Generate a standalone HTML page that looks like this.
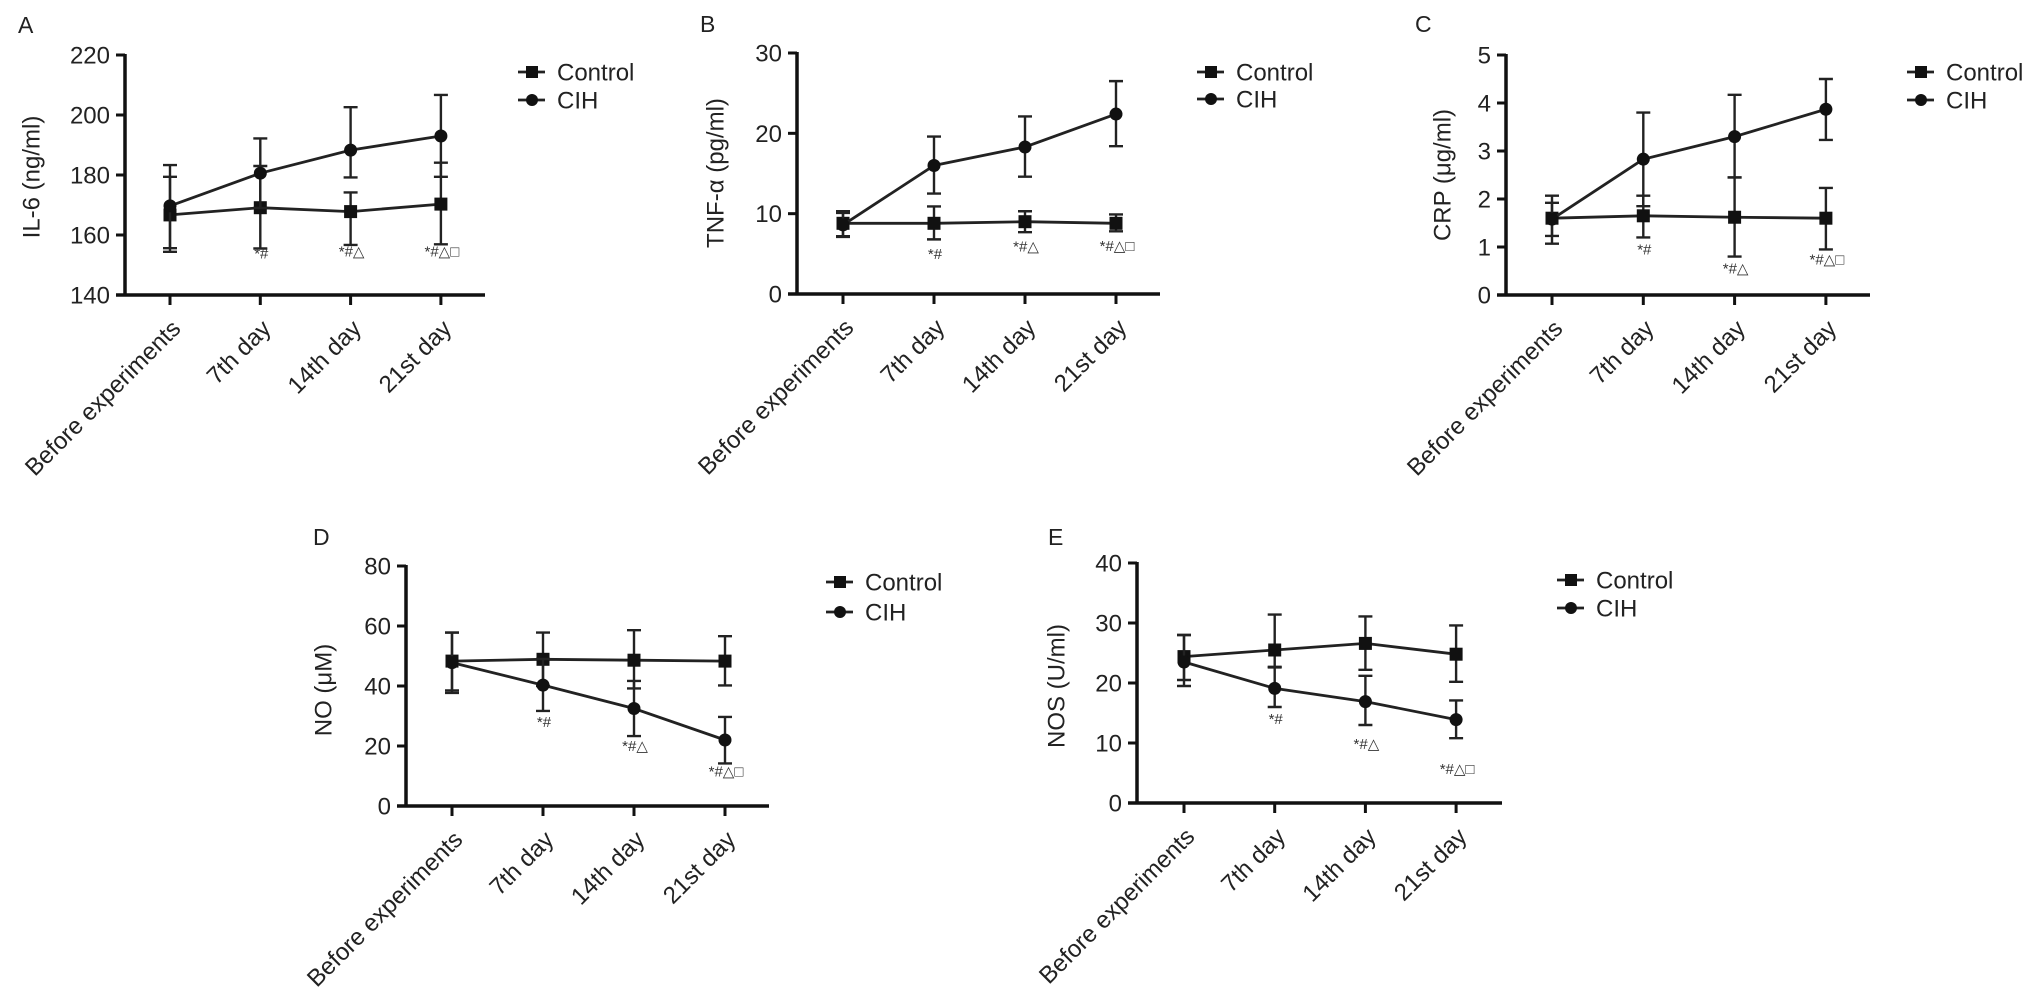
<!DOCTYPE html>
<html><head><meta charset="utf-8"><style>
html,body{margin:0;padding:0;background:#fff;}
svg{display:block;font-family:"Liberation Sans",Arial,sans-serif;}
</style></head><body>
<svg id="fig" width="2028" height="1004" viewBox="0 0 2028 1004" xmlns="http://www.w3.org/2000/svg"></svg>
<script>
const categories = ["Before experiments","7th day","14th day","21st day"];
// Panel A IL-6
const aControl = [166.7,169.1,167.8,170.3];
const aControlHi = [179.4,183.0,174.2,184.1];
const aControlLo = [154.4,155.5,156.7,156.9];
const aCIH = [169.7,180.6,188.3,193.0];
const aCIHHi = [183.3,192.2,202.6,206.7];
const aCIHLo = [155.6,169.0,179.2,179.4];
const aTicks = [140,160,180,200,220];
const aNotes = ["","*#","*#△","*#△□"];
const aNoteVals = [0,153.9,154.5,154.5];
// Panel B TNF-a
const bControl = [8.8,8.8,9.0,8.8];
const bControlHi = [10.3,10.9,10.3,9.9];
const bControlLo = [7.2,6.8,7.7,7.8];
const bCIH = [8.6,16.0,18.3,22.4];
const bCIHHi = [10.1,19.6,22.1,26.5];
const bCIHLo = [7.1,12.5,14.6,18.4];
const bTicks = [0,10,20,30];
const bNotes = ["","*#","*#△","*#△□"];
const bNoteVals = [0,5.0,5.9,6.0];
// Panel C CRP
const cControl = [1.60,1.65,1.62,1.60];
const cControlHi = [2.07,2.07,2.45,2.23];
const cControlLo = [1.07,1.20,0.80,0.95];
const cCIH = [1.58,2.83,3.30,3.87];
const cCIHHi = [1.92,3.80,4.17,4.50];
const cCIHLo = [1.23,1.85,2.45,3.23];
const cTicks = [0,1,2,3,4,5];
const cNotes = ["","*#","*#△","*#△□"];
const cNoteVals = [0,0.95,0.55,0.74];
// Panel D NO
const dControl = [48.3,48.9,48.6,48.3];
const dControlHi = [57.8,57.8,58.6,56.6];
const dControlLo = [37.7,40.0,39.2,40.2];
const dCIH = [47.8,40.3,32.5,22.0];
const dCIHHi = [57.8,49.0,41.7,29.7];
const dCIHLo = [38.5,31.7,23.3,14.2];
const dTicks = [0,20,40,60,80];
const dNotes = ["","*#","*#△","*#△□"];
const dNoteVals = [0,28.0,20.0,11.5];
// Panel E NOS
const eControl = [24.4,25.5,26.6,24.8];
const eControlHi = [28.0,31.4,31.1,29.6];
const eControlLo = [20.5,22.7,22.2,20.2];
const eCIH = [23.5,19.1,16.9,13.9];
const eCIHHi = [28.0,22.6,21.2,17.1];
const eCIHLo = [19.5,16.0,13.0,10.8];
const eTicks = [0,10,20,30,40];
const eNotes = ["","*#","*#△","*#△□"];
const eNoteVals = [0,14.0,9.8,5.7];

const NS = "http://www.w3.org/2000/svg";
const svg = document.getElementById('fig');
function mk(tag, attrs, parent, text){
  const e = document.createElementNS(NS, tag);
  for (const k in attrs) e.setAttribute(k, attrs[k]);
  if (text !== undefined) e.textContent = text;
  (parent||svg).appendChild(e);
  return e;
}

const panels = [
 {id:'a',letter:'A',title:'IL-6 (ng/ml)',ax:125,c0:170,step:90.3,xend:485,top:55,bot:295,min:140,max:220,ticks:aTicks,
  ctl:aControl,ctlHi:aControlHi,ctlLo:aControlLo,cih:aCIH,cihHi:aCIHHi,cihLo:aCIHLo,notes:aNotes,noteVals:aNoteVals,
  lx:518,ly:72,lgap:28,tx:32,ty:177,pl:[18,33]},
 {id:'b',letter:'B',title:'TNF-α (pg/ml)',ax:797,c0:843,step:91,xend:1160,top:53,bot:294,min:0,max:30,ticks:bTicks,
  ctl:bControl,ctlHi:bControlHi,ctlLo:bControlLo,cih:bCIH,cihHi:bCIHHi,cihLo:bCIHLo,notes:bNotes,noteVals:bNoteVals,
  lx:1197,ly:72,lgap:27,tx:716,ty:173,pl:[700,32]},
 {id:'c',letter:'C',title:'CRP (μg/ml)',ax:1506,c0:1552,step:91.3,xend:1870,top:55,bot:295,min:0,max:5,ticks:cTicks,
  ctl:cControl,ctlHi:cControlHi,ctlLo:cControlLo,cih:cCIH,cihHi:cCIHHi,cihLo:cCIHLo,notes:cNotes,noteVals:cNoteVals,
  lx:1907,ly:72,lgap:28,tx:1443,ty:175,pl:[1415,32]},
 {id:'d',letter:'D',title:'NO (μM)',ax:406,c0:452,step:91,xend:769,top:566,bot:806,min:0,max:80,ticks:dTicks,
  ctl:dControl,ctlHi:dControlHi,ctlLo:dControlLo,cih:dCIH,cihHi:dCIHHi,cihLo:dCIHLo,notes:dNotes,noteVals:dNoteVals,
  lx:826,ly:582,lgap:30,tx:324,ty:690,pl:[313,545]},
 {id:'e',letter:'E',title:'NOS (U/ml)',ax:1137,c0:1184,step:90.7,xend:1502,top:563,bot:803,min:0,max:40,ticks:eTicks,
  ctl:eControl,ctlHi:eControlHi,ctlLo:eControlLo,cih:eCIH,cihHi:eCIHHi,cihLo:eCIHLo,notes:eNotes,noteVals:eNoteVals,
  lx:1557,ly:580,lgap:28,tx:1057,ty:686,pl:[1048,545]}
];

panels.forEach(p=>{
  const g = mk('g',{});
  
  
  const xs = i => p.c0 + i*p.step;
  const ys = v => p.bot - (v - p.min)/(p.max - p.min)*(p.bot - p.top);

  const lt = mk('text',{x:p.pl[0],y:p.pl[1],'font-size':23,fill:'#222'},g,p.letter);
  
  

  const ya = mk('line',{x1:p.ax,y1:p.top-1,x2:p.ax,y2:p.bot+1.5,stroke:'#111','stroke-width':3.5},g);
  
  
  const xa = mk('line',{x1:p.ax-9,y1:p.bot,x2:p.xend,y2:p.bot,stroke:'#111','stroke-width':3.5},g);
  
  

  p.ticks.forEach(t=>{
    const y = ys(t);
    mk('line',{x1:p.ax-9,y1:y,x2:p.ax,y2:y,stroke:'#111','stroke-width':3},g);
    const tl = mk('text',{x:p.ax-15,y:y+8.5,'font-size':24,'text-anchor':'end',fill:'#222'},g,String(t));
    
    
  });

  categories.forEach((c,i)=>{
    const x = xs(i);
    mk('line',{x1:x,y1:p.bot,x2:x,y2:p.bot+10,stroke:'#111','stroke-width':3},g);
    const ax = x+12, ay = p.bot+35;
    const cl = mk('text',{x:ax,y:ay,'font-size':24,'text-anchor':'end',fill:'#222',
      transform:'rotate(-45 '+ax+' '+ay+')'},g,c);
    
    
  });

  const yt = mk('text',{x:p.tx,y:p.ty,'font-size':24,'text-anchor':'middle','dominant-baseline':'central',fill:'#222',
    transform:'rotate(-90 '+p.tx+' '+p.ty+')'},g,p.title);
  
  

  function series(vals,hi,lo,kind){
    const sg = mk('g',{},g);
    
    
    vals.forEach((v,i)=>{
      const x = xs(i);
      const eb = mk('path',{d:'M'+x+' '+ys(hi[i])+'V'+ys(lo[i])+'M'+(x-7)+' '+ys(hi[i])+'H'+(x+7)+'M'+(x-7)+' '+ys(lo[i])+'H'+(x+7),
        stroke:'#222','stroke-width':2.4,fill:'none'},sg);
      
      
    });
    const ln = mk('polyline',{points:vals.map((v,i)=>xs(i)+','+ys(v)).join(' '),stroke:'#222','stroke-width':2.8,fill:'none'},sg);
    
    
    vals.forEach((v,i)=>{
      let m;
      if (kind==='control') m = mk('rect',{x:xs(i)-6.5,y:ys(v)-6.5,width:13,height:13,fill:'#111'},sg);
      else m = mk('circle',{cx:xs(i),cy:ys(v),r:6.5,fill:'#111'},sg);
      
      
    });
  }
  series(p.ctl,p.ctlHi,p.ctlLo,'control');
  series(p.cih,p.cihHi,p.cihLo,'cih');

  p.notes.forEach((n,i)=>{
    if(!n) return;
    const nt = mk('text',{x:xs(i)+1,y:ys(p.noteVals[i])+5,'font-size':15,'text-anchor':'middle',fill:'#333'},g,n);
    
    
  });

  const lg = mk('g',{},g);
  
  
  [['Control','square'],['CIH','circle']].forEach((e,k)=>{
    const y = p.ly + k*p.lgap;
    const eg = mk('g',{},lg);
    
    
    mk('line',{x1:p.lx,y1:y,x2:p.lx+27,y2:y,stroke:'#222','stroke-width':2.8},eg);
    if(e[1]==='square') mk('rect',{x:p.lx+8,y:y-6,width:12,height:12,fill:'#111'},eg);
    else mk('circle',{cx:p.lx+14,cy:y,r:6,fill:'#111'},eg);
    mk('text',{x:p.lx+39,y:y+8.5,'font-size':24,fill:'#222'},eg,e[0]);
  });
});
</script>
</body></html>
